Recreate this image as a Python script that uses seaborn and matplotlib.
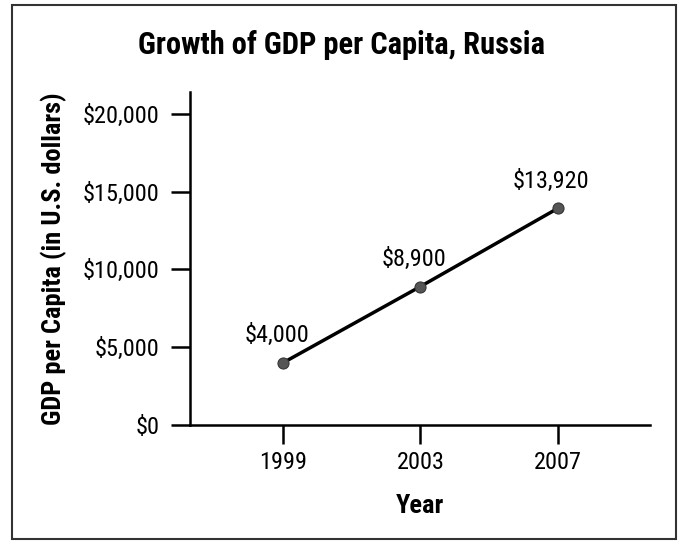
import matplotlib
matplotlib.use('Agg')
import matplotlib.pyplot as plt
import seaborn as sns
import pandas as pd
from matplotlib.patches import Rectangle

# Datos
years = [1999, 2003, 2007]
gdp = [4000, 8900, 13920]
point_labels = ['$4,000', '$8,900', '$13,920']
y_ticks = [0, 5000, 10000, 15000, 20000]
y_tick_labels = ['$0', '$5,000', '$10,000', '$15,000', '$20,000']

df = pd.DataFrame({'Year': years, 'GDP': gdp})

sns.set_style('white')
plt.rcParams['font.family'] = ['Roboto Condensed', 'Liberation Sans Narrow', 'Liberation Sans', 'DejaVu Sans']
plt.rcParams['text.color'] = 'black'
plt.rcParams['axes.labelcolor'] = 'black'

fig = plt.figure(figsize=(6.83, 5.42), dpi=100)
ax = fig.add_axes([0.278, 0.216, 0.674, 0.614])

sns.lineplot(data=df, x='Year', y='GDP', ax=ax, color='black', linewidth=2.5,
             marker='o', markersize=8, markerfacecolor='#555555',
             markeredgecolor='#333333')

for x, y, t in zip(years, gdp, point_labels):
    ax.annotate(t, (x, y), xytext=(-4.5, 15), textcoords='offset points',
                ha='center', va='baseline', fontsize=17.5, color='black')

ax.set_xlim(1996.28, 2009.7)
ax.set_ylim(0, 21400)
ax.set_xticks(years)
ax.set_xticklabels([str(y) for y in years], fontsize=17.5)
ax.set_yticks(y_ticks)
ax.set_yticklabels(y_tick_labels, fontsize=17.5)
ax.tick_params(axis='both', which='major', bottom=True, left=True, direction='out',
               length=14, width=1.8, colors='black', pad=8)
ax.tick_params(axis='x', pad=5)

sns.despine(ax=ax)
for s in ['left', 'bottom']:
    ax.spines[s].set_linewidth(1.8)
    ax.spines[s].set_color('black')

ax.set_xlabel('Year', fontsize=19, fontweight='bold', labelpad=14)
ax.set_ylabel('GDP per Capita (in U.S. dollars)', fontsize=19, fontweight='bold', labelpad=11)
fig.text(0.5, 0.917, 'Growth of GDP per Capita, Russia', ha='center', va='center',
         fontsize=22, fontweight='bold')

# marco exterior
fig.patches.append(Rectangle((0.018, 0.006), 0.972, 0.984, transform=fig.transFigure,
                             fill=False, edgecolor='#333333', linewidth=1.5))

fig.savefig('out.png', dpi=100)
